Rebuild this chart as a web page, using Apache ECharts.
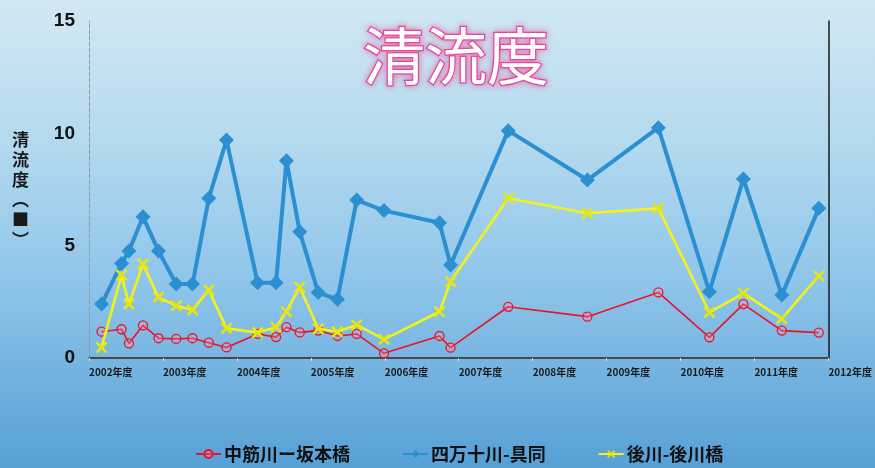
<!DOCTYPE html>
<html><head><meta charset="utf-8">
<script src="https://cdn.jsdelivr.net/npm/echarts@6/dist/echarts.min.js"></script>
<style>html,body{margin:0;padding:0;}#c{width:875px;height:468px;}</style>
</head><body><div id="c"></div>
<script>
const years = [2002.17, 2002.44, 2002.54, 2002.73, 2002.94, 2003.18, 2003.40, 2003.62, 2003.86, 2004.28, 2004.53, 2004.67, 2004.85, 2005.10, 2005.36, 2005.62, 2005.99, 2006.74, 2006.89, 2007.67, 2008.74, 2009.70, 2010.39, 2010.85, 2011.37, 2011.87];
const nakasuji = [1.17,1.28,0.65,1.45,0.88,0.85,0.88,0.68,0.47,1.07,0.93,1.37,1.14,1.22,0.98,1.07,0.21,0.98,0.46,2.28,1.84,2.92,0.92,2.40,1.22,1.13];
const shimanto = [2.40,4.21,4.76,6.29,4.76,3.29,3.29,7.11,9.70,3.35,3.35,8.78,5.62,2.91,2.61,7.03,6.56,6.02,4.14,10.12,7.92,10.25,2.95,7.97,2.80,6.66];
const ushiro = [0.47,3.69,2.40,4.18,2.70,2.33,2.14,3.03,1.32,1.13,1.37,2.06,3.15,1.30,1.17,1.47,0.83,2.06,3.40,7.11,6.44,6.66,2.03,2.88,1.75,3.65];
const seriesNames = ['中筋川ー坂本橋', '四万十川-具同', '後川-後川橋'];
const titleText = '清流度';
const yName = '清\n流\n度\n︵\n■\n︶';
const yearSuffix = '年度';

const pair = arr => years.map((y, i) => [y, arr[i]]);
const xShape = 'path://M1.5,0 L5,3.5 L8.5,0 L10,1.5 L6.5,5 L10,8.5 L8.5,10 L5,6.5 L1.5,10 L0,8.5 L3.5,5 L0,1.5 Z';

const chart = echarts.init(document.getElementById('c'));
chart.setOption({
  animation: false,
  backgroundColor: {type:'linear', x:0, y:0, x2:0, y2:1, colorStops:[
    {offset:0, color:'#d2e8f2'}, {offset:0.3, color:'#b4daef'}, {offset:0.6, color:'#8fc5ea'}, {offset:1, color:'#56a0d6'}]},
  title: {
    text: titleText, left: 358, top: 20,
    textStyle: {fontFamily:'Noto Sans CJK JP', fontSize: 62, fontWeight:'normal', color:'#ffffff',
      textBorderColor:'#e0468f', textBorderWidth:2.5, textShadowColor:'rgba(235,90,170,0.7)', textShadowBlur:6}
  },
  legend: {
    left: 190, top: 440, itemWidth: 25, itemHeight: 10, itemGap: 52,
    textStyle: {fontFamily:'Noto Sans CJK JP', fontSize: 18, fontWeight:'bold', color:'#111', padding:[0,0,0,-2]},
    data: seriesNames
  },
  grid: {left: 89, top: 21, right: 44.5, bottom: 110},
  xAxis: [{
    type:'value', min:2002, max:2012, interval:1,
    axisLine:{show:true, lineStyle:{color:'#dde8ee', width:1.5}},
    axisTick:{show:true, length:3, lineStyle:{color:'#dde8ee'}},
    splitLine:{show:false},
    axisLabel:{formatter: v => v + yearSuffix, align:'left', margin:9, fontSize:10, fontWeight:'bold', color:'#1a1a1a', fontFamily:'Noto Sans CJK JP', showMaxLabel:true}
  },{
    type:'value', position:'top', min:2002, max:2012,
    axisLine:{show:true, lineStyle:{color:'#1a1a1a', width:1.5}},
    axisTick:{show:false}, axisLabel:{show:false}, splitLine:{show:false}
  }],
  yAxis: [{
    type:'value', min:0, max:15, interval:5,
    name: yName, nameLocation:'middle', nameRotate:0, nameGap:60,
    nameTextStyle:{fontFamily:'Noto Sans CJK JP', fontSize:17, fontWeight:'bold', color:'#1a1a1a', lineHeight:20, padding:[0,0,26,0]},
    axisLine:{show:true, lineStyle:{color:'#8c9ca8', width:1, type:'dashed'}},
    axisTick:{show:false},
    splitLine:{show:false},
    axisLabel:{margin:14, fontSize:19, fontWeight:'bold', color:'#111', fontFamily:'Liberation Sans Narrow, Liberation Sans, sans-serif'}
  },{
    type:'value', position:'right', min:0, max:15,
    axisLine:{show:true, lineStyle:{color:'#1a1a1a', width:1.5}},
    axisTick:{show:false}, axisLabel:{show:false}, splitLine:{show:false}
  }],
  series: [
    {name: seriesNames[0], type:'line', z:3, data: pair(nakasuji), symbol:'circle', symbolSize:9,
      lineStyle:{color:'#e8142c', width:1.6},
      itemStyle:{color:'rgba(255,150,180,0.25)', borderColor:'#e8142c', borderWidth:1.3}},
    {name: seriesNames[1], type:'line', z:2, data: pair(shimanto), symbol:'diamond', symbolSize:15,
      lineStyle:{color:'#2b8fd2', width:4},
      itemStyle:{color:'#2b8fd2'}},
    {name: seriesNames[2], type:'line', z:4, data: pair(ushiro), symbol: xShape, symbolSize:12,
      lineStyle:{color:'#f2f21a', width:2.6},
      itemStyle:{color:'#e6e60e'}}
  ]
});
</script></body></html>
